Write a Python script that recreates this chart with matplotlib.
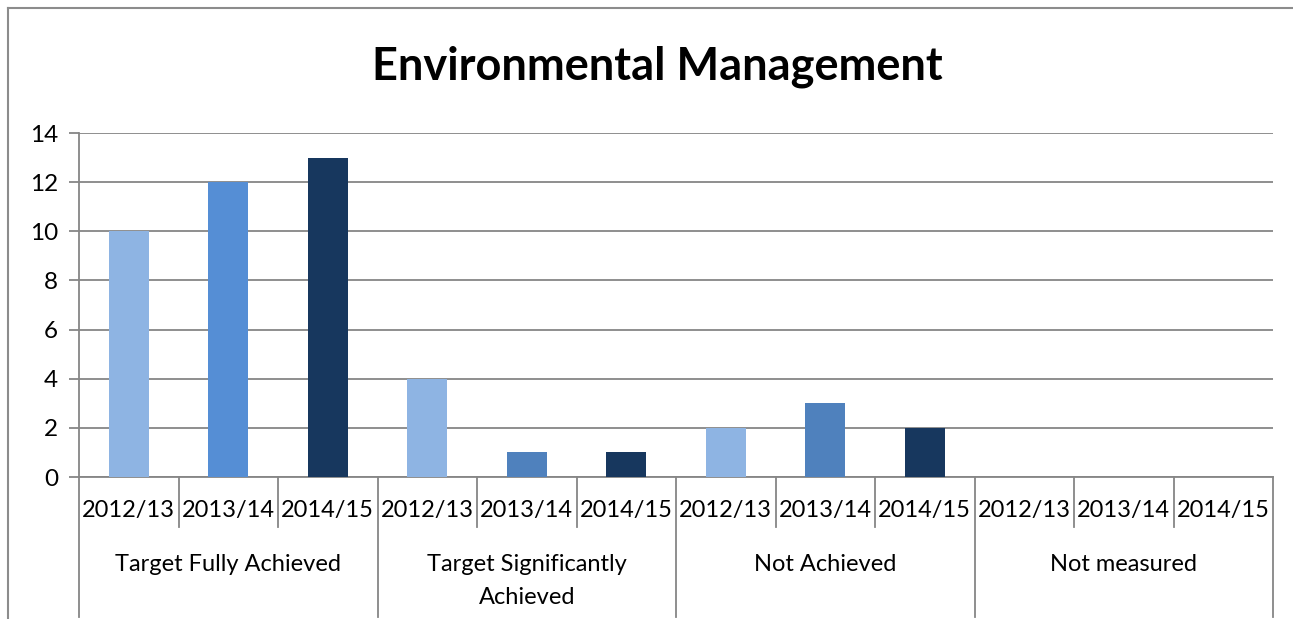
import numpy as np
import matplotlib.pyplot as plt
from matplotlib.lines import Line2D
from matplotlib.transforms import blended_transform_factory

plt.rcParams['font.family'] = ['Lato', 'DejaVu Sans']

# %% data
groups = ['Target Fully Achieved', 'Target Significantly\nAchieved',
          'Not Achieved', 'Not measured']
years = ['2012/13', '2013/14', '2014/15']
v_2012 = [10, 4, 2, 0]
v_2013 = [12, 1, 3, 0]
v_2014 = [13, 1, 2, 0]

# %% colours (the 2013/14 bar is a slightly different blue outside the first group)
c_2012 = ['#8EB4E3'] * 4
c_2013 = ['#558ED5', '#4F81BD', '#4F81BD', '#4F81BD']
c_2014 = ['#17375E'] * 4

W, H = 1293, 619
fig = plt.figure(figsize=(W / 100, H / 100), dpi=100)
ax = fig.add_axes([79 / W, 1 - 477 / H, (1273 - 79) / W, (477 - 133) / H])

grid_c = '#868686'
n = len(groups)
for g in range(n):
    for i, (vals, cols) in enumerate([(v_2012, c_2012), (v_2013, c_2013), (v_2014, c_2014)]):
        ax.bar(g * 3 + i, vals[g], width=0.4, color=cols[g], zorder=3)

ax.set_xlim(-0.5, 3 * n - 0.5)
ax.set_ylim(0, 14)
ax.set_yticks(range(0, 15, 2))
ax.yaxis.grid(True, color=grid_c, linewidth=1.3)
ax.set_axisbelow(True)
for s in ['top', 'right']:
    ax.spines[s].set_visible(False)
for s in ['left', 'bottom']:
    ax.spines[s].set_color(grid_c)
    ax.spines[s].set_linewidth(1.3)
ax.tick_params(axis='y', length=7, width=1.3, color=grid_c, labelsize=17.5, pad=8)
ax.set_xticks([])

# %% two-level category axis below the plot
tr = blended_transform_factory(ax.transData, ax.transAxes)
sub_bottom = -50 / 344
grp_bottom = -140 / 344
for k in range(3 * n + 1):
    x = k - 0.5
    low = grp_bottom if k % 3 == 0 else sub_bottom
    ax.add_line(Line2D([x, x], [0, low], transform=tr, color=grid_c,
                       linewidth=1.3, clip_on=False))
for g in range(n):
    for i, y in enumerate(years):
        ax.text(g * 3 + i, -33 / 344, y, transform=tr, ha='center', va='center',
                fontsize=17)
    ax.text(g * 3 + 1, -77 / 344, groups[g], transform=tr, ha='center', va='top',
            fontsize=17, linespacing=1.7)

fig.text(657 / W, 1 - 67 / H, 'Environmental Management', ha='center', va='center',
         fontsize=32.5, fontweight='bold')

# outer chart frame (cropped on right and bottom)
fig.add_artist(Line2D([8 / W, 8 / W], [0, 1 - 8 / H], transform=fig.transFigure,
                      color='#8C8C8C', linewidth=1.5))
fig.add_artist(Line2D([8 / W, 1], [1 - 8 / H, 1 - 8 / H], transform=fig.transFigure,
                      color='#8C8C8C', linewidth=1.5))

fig.savefig('out.png', dpi=100)
